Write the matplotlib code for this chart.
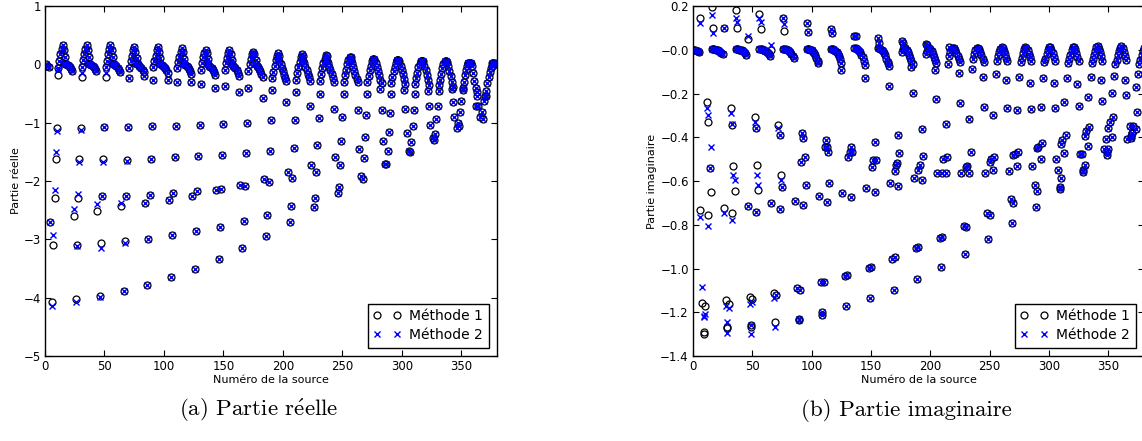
import numpy as np
import matplotlib.pyplot as plt

plt.rcParams["mathtext.fontset"] = "cm"

nan = np.nan
GROUP = 20      # sources per group
N_SRC = 380

# ---------------- Partie réelle ----------------
re_start_x = [1, 2, 3]
re_start = [0.0, -0.02, -0.04]

re_peak_off = [11, 12, 13, 14, 15, 16, 17]
re_peak = [
    [-0.06, 0.06, 0.17, 0.26, 0.33, 0.24, 0.12],
    [-0.05, 0.07, 0.17, 0.27, 0.33, 0.25, 0.13],
    [-0.05, 0.06, 0.17, 0.26, 0.33, 0.24, 0.12],
    [-0.06, 0.05, 0.15, 0.24, 0.30, 0.22, 0.11],
    [-0.05, 0.06, 0.15, 0.24, 0.30, 0.22, 0.11],
    [-0.07, 0.04, 0.13, 0.22, 0.28, 0.21, 0.10],
    [-0.09, 0.03, 0.12, 0.20, 0.25, 0.19, 0.09],
    [-0.10, 0.02, 0.11, 0.19, 0.24, 0.18, 0.08],
    [-0.12, 0.00, 0.10, 0.17, 0.22, 0.17, 0.08],
    [-0.24, -0.13, -0.03, 0.07, 0.15, 0.20, 0.15],
    [-0.26, -0.15, -0.05, 0.04, 0.12, 0.18, 0.14],
    [-0.28, -0.17, -0.07, 0.02, 0.10, 0.16, 0.14],
    [-0.30, -0.19, -0.09, 0.00, 0.07, 0.12, 0.13],
    [-0.31, -0.20, -0.10, -0.02, 0.05, 0.09, 0.10],
    [-0.32, -0.22, -0.12, -0.04, 0.03, 0.07, 0.08],
    [-0.34, -0.24, -0.14, -0.05, 0.01, 0.05, 0.06],
    [-0.36, -0.26, -0.16, -0.07, 0.00, 0.04, 0.05],
    [-0.40, -0.30, -0.19, -0.09, -0.02, 0.02, 0.03],
    [-0.45, -0.32, -0.22, -0.13, -0.06, -0.02, 0.02],
]
re_flat_off = [16, 17, 18, 19, 20, 21, 22, 23]
re_flat = [
    [0.03, 0.01, 0.00, -0.01, -0.03, -0.05, -0.08, -0.12],
    [0.03, 0.01, 0.00, -0.01, -0.03, -0.05, -0.08, -0.12],
    [0.03, 0.01, 0.00, -0.01, -0.03, -0.06, -0.09, -0.13],
    [0.03, 0.01, 0.00, -0.02, -0.04, -0.06, -0.09, -0.13],
    [0.03, 0.01, -0.01, -0.02, -0.04, -0.07, -0.10, -0.14],
    [0.02, 0.00, -0.01, -0.03, -0.05, -0.08, -0.12, -0.16],
    [0.02, 0.00, -0.02, -0.04, -0.06, -0.09, -0.13, -0.18],
    [0.02, 0.00, -0.02, -0.04, -0.07, -0.10, -0.15, -0.20],
    [0.03, 0.01, -0.02, -0.05, -0.08, -0.12, -0.17, -0.22],
    [0.10, 0.05, 0.00, -0.06, -0.12, -0.18, -0.24, -0.28],
    [0.09, 0.05, 0.02, -0.04, -0.10, -0.16, -0.22, -0.28],
    [0.10, 0.06, 0.02, -0.04, -0.10, -0.17, -0.24, -0.30],
    [0.10, 0.07, 0.02, -0.04, -0.11, -0.18, -0.25, -0.31],
    [0.09, 0.07, 0.03, -0.04, -0.11, -0.18, -0.26, -0.32],
    [0.08, 0.07, 0.05, -0.03, -0.10, -0.17, -0.25, -0.33],
    [0.06, 0.06, 0.05, -0.02, -0.10, -0.18, -0.27, -0.35],
    [0.05, 0.05, 0.04, -0.02, -0.11, -0.20, -0.30, -0.38],
    [0.03, 0.03, 0.03, -0.03, -0.15, -0.28, -0.40, -0.48],
    [0.03, 0.03, 0.02, 0.01, 0.00, nan, nan, nan],
]

# tracks: one value per group (method 1), method 2 differs only on the first groups
re_d1 = [-4.08, -4.03, -3.97, -3.88, -3.78, -3.65, -3.50, -3.33, -3.15, -2.94,
         -2.70, -2.45, -2.20, -1.92, -1.70, -1.49, -1.27, -1.09, -0.90]
re_d1_m2 = [-4.15, -4.08, -3.99]
re_d2 = [-3.10, -3.09, -3.06, -3.02, -2.99, -2.92, -2.86, -2.79, -2.69, -2.58,
         -2.43, -2.29, -2.10, -1.96, -1.71, -1.50, -1.29, -1.01, -0.82]
re_d2_m2 = [-2.92, -3.12, -3.14, -3.07]
re_g2 = [-2.71, -2.60, -2.51, -2.42, -2.37, -2.32, -2.25, -2.15, -2.07, -1.96,
         -1.85, -1.72, -1.59, -1.45, -1.32, -1.17, -1.04, -0.90, -0.71]
re_g2_m2 = [-2.71, -2.48, -2.39, -2.38]
re_g1 = [-2.29, -2.29, -2.25, -2.25, -2.24, -2.21, -2.17, -2.13, -2.08, -2.01,
         -1.94, -1.85, -1.73, -1.61, -1.48, -1.33, -1.19, -1.05, -0.94]
re_g1_m2 = [-2.16, -2.22]
re_f = [-1.63, -1.63, -1.63, -1.64, -1.62, -1.58, -1.57, -1.55, -1.52, -1.49,
        -1.44, -1.39, -1.32, -1.25, -1.16, -1.05, -0.94, -0.82, -0.63]
re_f_m2 = [-1.51, -1.67, -1.67, -1.66]
re_e = [-1.09, -1.09, -1.08, -1.07, -1.06, -1.05, -1.04, -1.02, -1.00, -0.96,
        -0.95, -0.92, -0.90, -0.87, -0.83, -0.78, -0.71, -0.63, -0.55]
re_e_m2 = [-1.15, -1.12]
re_c = [-0.18, -0.21, -0.21, -0.24, -0.27, -0.30, -0.34, -0.37, -0.41, -0.44,
        -0.47, -0.50, -0.50, -0.51, -0.50, -0.50, -0.45, -0.44, -0.54]
re_c_m2 = [-0.10, -0.14, -0.15]
re_b = [nan, nan, nan, nan, -0.20, -0.26, -0.31, -0.40, -0.48, -0.57,
        -0.65, -0.71, -0.76, -0.79, -0.79, -0.76, -0.71, -0.64, -0.55]
re_b2 = [nan] * 14 + [-0.43, -0.44, -0.45, -0.43, -0.72]

# ---------------- Partie imaginaire ----------------
im_clu_off = [-4, -3, -2, -1, 0, 1, 2, 3, 4, 5]
im_clu = [
    [nan, nan, nan, nan, 0.0, 0.0, -0.002, -0.004, -0.007, -0.012],
    [0.003, 0.003, 0.002, 0.001, 0.0, -0.002, -0.004, -0.008, -0.013, -0.02],
    [0.003, 0.003, 0.002, 0.001, 0.0, -0.003, -0.006, -0.01, -0.016, -0.024],
    [0.003, 0.003, 0.002, 0.001, -0.001, -0.004, -0.008, -0.013, -0.02, -0.03],
    [0.004, 0.004, 0.003, 0.001, -0.002, -0.006, -0.011, -0.018, -0.027, -0.038],
    [0.004, 0.004, 0.003, 0.001, -0.003, -0.008, -0.015, -0.024, -0.036, -0.05],
    [0.005, 0.005, 0.004, 0.001, -0.004, -0.01, -0.019, -0.03, -0.044, -0.06],
    [0.006, 0.006, 0.004, 0.001, -0.005, -0.012, -0.022, -0.035, -0.05, -0.068],
    [0.006, 0.007, 0.005, 0.001, -0.005, -0.014, -0.026, -0.04, -0.056, -0.075],
    [-0.01, 0.004, 0.008, 0.006, 0.0, -0.01, -0.022, -0.036, -0.05, -0.065],
    [-0.02, -0.004, 0.006, 0.008, 0.003, -0.006, -0.018, -0.032, -0.046, -0.06],
    [-0.03, -0.012, 0.002, 0.01, 0.006, -0.003, -0.015, -0.03, -0.044, -0.058],
    [-0.04, -0.02, -0.003, 0.008, 0.01, 0.003, -0.01, -0.025, -0.04, -0.055],
    [-0.05, -0.03, -0.01, 0.005, 0.012, 0.006, -0.006, -0.02, -0.036, -0.052],
    [-0.056, -0.036, -0.016, 0.002, 0.012, 0.01, -0.002, -0.018, -0.035, -0.052],
    [-0.058, -0.04, -0.02, 0.0, 0.014, 0.012, 0.0, -0.016, -0.034, -0.052],
    [-0.06, -0.042, -0.022, -0.002, 0.014, 0.014, 0.002, -0.014, -0.032, -0.05],
    [-0.062, -0.044, -0.024, -0.004, 0.012, 0.015, 0.004, -0.012, -0.03, -0.05],
    [-0.064, -0.046, -0.026, -0.006, 0.01, 0.016, 0.006, -0.01, -0.028, -0.048],
    [-0.064, -0.046, -0.026, -0.006, 0.01, nan, nan, nan, nan, nan],
]

im_uh = [0.197, 0.18, 0.163, 0.144, 0.121, 0.093, 0.063, 0.052, 0.041, 0.026, 0.012]
im_uh_m2 = [0.159, 0.144, 0.144]
im_ul = [0.098, 0.098, 0.093, 0.087, 0.083, 0.075, 0.063, 0.032, 0.03, 0.02]
im_ul_m2 = [0.078, 0.128, 0.128, 0.118]
im_ue = [0.144, 0.098, 0.048, 0.0]
im_ue_m2 = [0.124, 0.098, 0.063, 0.022]
im_ra1 = [nan] * 8 + [-0.06, -0.077, -0.093, -0.108, -0.126, -0.138, -0.15,
                      -0.153, -0.155, -0.14, -0.14]
im_ra2 = [nan] * 5 + [-0.06, -0.093, -0.13, -0.166, -0.196, -0.224, -0.245, -0.26,
                      -0.268, -0.272, -0.268, -0.257, -0.233, -0.207]
im_rb1 = [nan] * 10 + [-0.065, -0.09, -0.111, -0.126, -0.131, -0.13, -0.126,
                       -0.12, -0.111]
im_arc = [-0.329, -0.344, -0.359, -0.39, -0.405, -0.443, -0.443, -0.42, -0.39,
          -0.364, -0.339, -0.317, -0.298, -0.275, -0.26, -0.237, -0.218,
          -0.196, -0.172]
im_arc_m2 = [-0.30, -0.34]
im_rx = [-0.237, -0.268, -0.306, -0.344, -0.382, -0.413, -0.466, -0.504, -0.519]
im_rx_m2 = [-0.268, -0.29, -0.329, -0.359]
im_s1 = [-0.542, -0.531, -0.527, -0.573, -0.489, -0.469, -0.466, -0.504, -0.473,
         -0.486, -0.489, -0.466, -0.489, -0.466, -0.425, -0.39, -0.352, -0.309,
         -0.283]
im_s1_m2 = [-0.542, -0.573, -0.573, -0.595]
im_s2 = [nan] * 4 + [-0.512, -0.443, -0.489, -0.534, -0.527, -0.527, -0.501,
                     -0.531, -0.501, -0.477, -0.443, -0.413, -0.37, -0.329, -0.349]
im_s3 = [nan] * 8 + [-0.553, -0.55, -0.565, -0.537, -0.512, -0.481, -0.45,
                     -0.431, -0.394, -0.359, -0.38]
im_p1 = [-0.649, -0.645, -0.64, -0.629, -0.618, -0.608]
im_p1_m2 = [-0.443, -0.595, -0.62]
im_q1 = [-0.733, -0.725, -0.716, -0.702, -0.69, -0.669, -0.653, -0.634, -0.611,
         -0.588, -0.565, -0.565, -0.565, -0.553, -0.53, -0.501, -0.477, -0.455,
         -0.41]
im_q1_m2 = [-0.763, -0.745]
im_q2 = [-0.755, -0.748, -0.74, -0.73, -0.71, -0.694, -0.675, -0.652, -0.623,
         -0.595, -0.562, -0.565, -0.55, -0.53, -0.5, -0.47, -0.44, -0.4, -0.36]
im_q2_m2 = [-0.806, -0.78]
im_dp1 = [-1.156, -1.144, -1.132, -1.11, -1.09, -1.06, -1.034, -0.999, -0.958,
          -0.908, -0.862, -0.806, -0.745, -0.684, -0.618, -0.55, -0.477, -0.41,
          -0.349]
im_dp1_m2 = [-1.083, -1.17, -1.162, -1.136]
im_dp1b = [-1.171, -1.162, -1.141, -1.121, -1.098, -1.06, -1.03, -0.994, -0.949,
           -0.903, -0.857, -0.809, -0.755, -0.702, -0.645, -0.588, -0.527,
           -0.455, -0.38]
im_dp1b_m2 = [-1.21, -1.18, -1.152]
im_dp2 = [-1.289, -1.269, -1.258, -1.243, -1.23, -1.197, -1.171, -1.136, -1.098,
          -1.049, -0.995, -0.934, -0.866, -0.793, -0.717, -0.626, -0.55, -0.468,
          -0.393]
im_dp2_m2 = [-1.22, -1.243, -1.30, -1.266]
im_dp2b = [-1.30, -1.274, -1.266, nan, -1.235, -1.213] + [nan] * 9 + \
          [-0.638, -0.56, -0.48, -0.405]
im_dp2b_m2 = [-1.215, -1.293, -1.26]


def table_xy(offsets, rows):
    xs, ys = [], []
    for g, row in enumerate(rows):
        for o, v in zip(offsets, row):
            xs.append(GROUP * g + o)
            ys.append(v)
    return xs, ys


def track_xy(off, vals):
    return [GROUP * g + off for g in range(len(vals))], list(vals)


def gather(tables, tracks):
    x1, y1, x2, y2 = [], [], [], []
    for xs, ys in tables:
        x1 += xs; y1 += ys
        x2 += xs; y2 += ys
    for off, vals, head in tracks:
        xs, ys = track_xy(off, vals)
        x1 += xs; y1 += ys
        v2 = list(head) + list(vals[len(head):])
        xs2, ys2 = track_xy(off, v2)
        x2 += xs2; y2 += ys2
    out = []
    for x, y in ((x1, y1), (x2, y2)):
        x = np.array(x, float); y = np.array(y, float)
        ok = np.isfinite(y) & (x >= 0) & (x <= N_SRC)
        out += [x[ok], y[ok]]
    return out


re_pts = gather(
    [(re_start_x, re_start), table_xy(re_peak_off, re_peak),
     table_xy(re_flat_off, re_flat)],
    [(6, re_d1, re_d1_m2), (7, re_d2, re_d2_m2), (4, re_g2, re_g2_m2),
     (8, re_g1, re_g1_m2), (9, re_f, re_f_m2), (10, re_e, re_e_m2),
     (11, re_c, re_c_m2), (3, re_b, []), (2, re_b2, [])])

im_pts = gather(
    [table_xy(im_clu_off, im_clu)],
    [(16, im_uh, im_uh_m2), (17, im_ul, im_ul_m2), (6, im_ue, im_ue_m2),
     (4, im_ra1, []), (5, im_ra2, []), (15, im_rb1, []),
     (13, im_arc, im_arc_m2), (12, im_rx, im_rx_m2), (14, im_s1, im_s1_m2),
     (11, im_s2, []), (10, im_s3, []), (15, im_p1, im_p1_m2),
     (6, im_q1, im_q1_m2), (13, im_q2, im_q2_m2), (8, im_dp1, im_dp1_m2),
     (10, im_dp1b, im_dp1b_m2), (9, im_dp2, im_dp2_m2),
     (9, im_dp2b, im_dp2b_m2)])

fig = plt.figure(figsize=(11.42, 4.41), dpi=100)
ax1 = fig.add_axes([0.0394, 0.1927, 0.3958, 0.7937])
ax2 = fig.add_axes([0.6068, 0.1927, 0.3949, 0.7937])

panels = [
    (ax1, re_pts, (-5, 1), np.arange(-5, 1.01, 1), "Partie réelle", "%d"),
    (ax2, im_pts, (-1.4, 0.2), np.arange(-1.4, 0.21, 0.2), "Partie imaginaire", "%.1f"),
]
for ax, (x1, y1, x2, y2), ylim, yt, ylab, fmt in panels:
    ax.plot(x1, y1, "o", mfc="none", mec="k", ms=5, mew=0.9, label="Méthode 1")
    ax.plot(x2, y2, "x", color="b", ms=5, mew=1.0, label="Méthode 2")
    ax.set_xlim(0, N_SRC)
    ax.set_ylim(*ylim)
    ax.set_xticks([0, 50, 100, 150, 200, 250, 300, 350])
    ax.set_yticks(yt)
    ax.set_yticklabels([(fmt % v).replace("-", "\u2212") for v in yt])
    ax.tick_params(direction="in", top=True, right=True, length=4, width=0.8,
                   labelsize=8.5, pad=3)
    for s in ax.spines.values():
        s.set_linewidth(1.0)
    ax.set_xlabel("Numéro de la source", fontsize=8, labelpad=1)
    ax.set_ylabel(ylab, fontsize=8, labelpad=2)
    ax.legend(loc="lower right", numpoints=2, fancybox=False, edgecolor="k",
              framealpha=1, fontsize=10, borderaxespad=0.6, handletextpad=0.6,
              labelspacing=0.35, borderpad=0.4)

# captions in Computer Modern; the accent is set through mathtext
fig.text(0.2268, 0.07, r"(a) Partie r$\acute{\mathrm{e}}$elle", ha="center",
         va="center", fontsize=16.5, family="cmr10")
fig.text(0.794, 0.07, "(b) Partie imaginaire", ha="center", va="center",
         fontsize=16.5, family="cmr10")

fig.savefig("out.png", dpi=100)
